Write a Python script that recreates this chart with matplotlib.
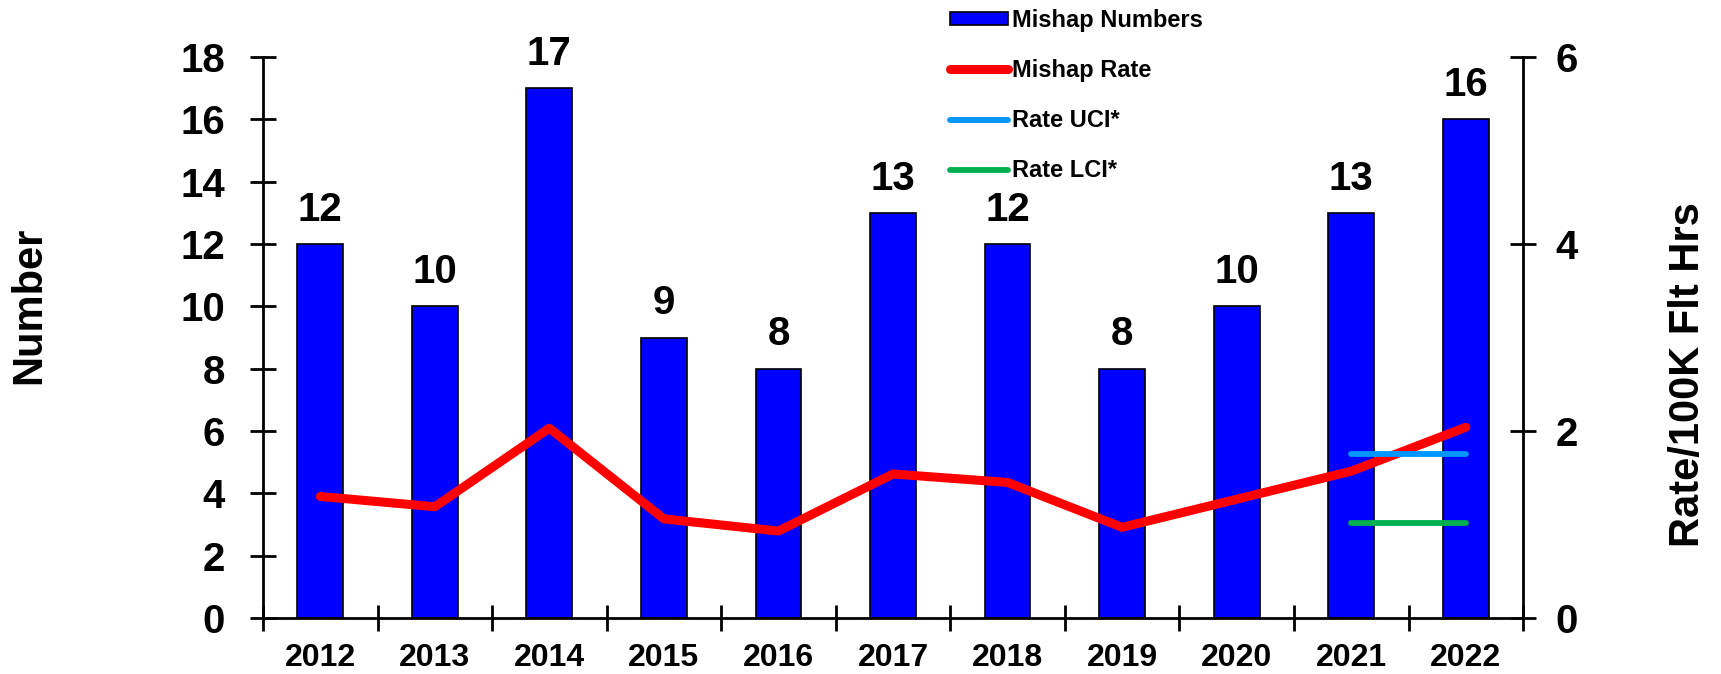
import numpy as np
import matplotlib.pyplot as plt

years = ['2012', '2013', '2014', '2015', '2016', '2017', '2018', '2019', '2020', '2021', '2022']
mishaps = [12, 10, 17, 9, 8, 13, 12, 8, 10, 13, 16]
rate = [1.30, 1.19, 2.03, 1.06, 0.93, 1.54, 1.45, 0.97, 1.27, 1.57, 2.04]
ci_years = [9, 10]
rate_uci = [1.75, 1.75]
rate_lci = [1.02, 1.02]

plt.rcParams['font.family'] = ['Liberation Sans', 'DejaVu Sans']
plt.rcParams['font.weight'] = 'bold'

fig = plt.figure(figsize=(17.21, 6.74), dpi=100)
ax = fig.add_axes([0.1528, 0.0831, 0.7322, 0.8323])
ax2 = ax.twinx()

x = np.arange(len(years))
bars = ax.bar(x, mishaps, width=0.4, color='#0000FF', edgecolor='black', linewidth=1.2,
              label='Mishap Numbers', zorder=2)
for xi, v in zip(x, mishaps):
    ax.annotate(str(v), (xi, v), xytext=(0, 11), textcoords='offset points',
                ha='center', va='bottom', fontsize=29, fontweight='bold')

l1, = ax2.plot(x, rate, color='#FF0000', lw=6.5, solid_capstyle='round',
               solid_joinstyle='round', label='Mishap Rate')
l2, = ax2.plot(ci_years, rate_uci, color='#0096FF', lw=4.2, solid_capstyle='round',
               label='Rate UCI*')
l3, = ax2.plot(ci_years, rate_lci, color='#00B050', lw=4.2, solid_capstyle='round',
               label='Rate LCI*')

ax.set_xlim(-0.5, 10.5)
ax.set_ylim(0, 18)
ax2.set_ylim(0, 6)
ax.set_yticks(range(0, 19, 2))
ax2.set_yticks([0, 2, 4, 6])

ax.set_xticks(x)
ax.set_xticklabels(years)
ax.set_xticks(np.arange(-0.5, 11, 1), minor=True)
ax.tick_params(axis='x', which='major', length=0, pad=18, labelsize=23)
ax.tick_params(axis='x', which='minor', direction='inout', length=19, width=2)
ax.tick_params(axis='y', direction='inout', length=19, width=2, pad=18, labelsize=29)
ax2.tick_params(axis='y', direction='inout', length=19, width=2, pad=14, labelsize=29)

for a in (ax, ax2):
    a.spines['top'].set_visible(False)
    for s in a.spines.values():
        s.set_linewidth(2)
ax2.spines['left'].set_visible(False)
ax2.spines['bottom'].set_visible(False)
ax.spines['right'].set_visible(False)

fig.text(0.0169, 0.5475, 'Number', rotation=90, ha='center', va='center',
         fontsize=30, fontweight='bold')
fig.text(0.9808, 0.4436, 'Rate/100K Flt Hrs', rotation=90, ha='center', va='center',
         fontsize=30, fontweight='bold')

fig.legend([bars, l1, l2, l3], ['Mishap Numbers', 'Mishap Rate', 'Rate UCI*', 'Rate LCI*'],
           loc='upper left', bbox_to_anchor=(0.552, 0.987), frameon=False,
           fontsize=17, handlelength=2.45, handleheight=0.5, handletextpad=0.17,
           labelspacing=1.15, borderpad=0, borderaxespad=0)

fig.savefig('out.png', dpi=100)
